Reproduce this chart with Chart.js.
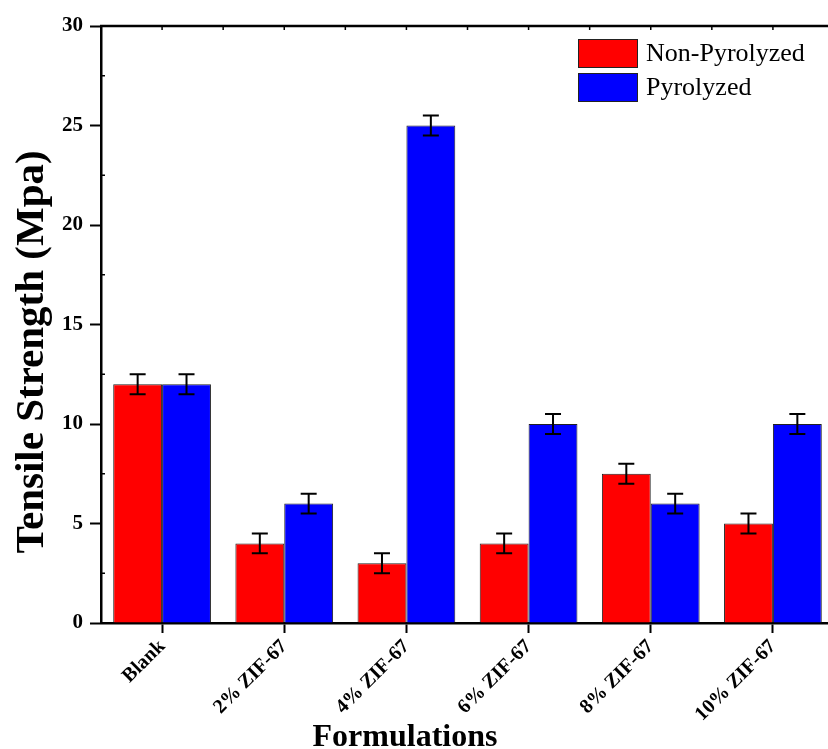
<!DOCTYPE html>
<html>
<head>
<meta charset="utf-8">
<script src="https://cdn.jsdelivr.net/npm/chart.js@4"></script>
<style>
  html, body { margin: 0; padding: 0; background: #fff; overflow: hidden; }
  #wrap { width: 840px; height: 749px; }
</style>
</head>
<body>
<div id="wrap"><canvas id="tsChart" width="840" height="749"></canvas></div>
<script>
// values
const formulations   = ['Blank', '2% ZIF-67', '4% ZIF-67', '6% ZIF-67', '8% ZIF-67', '10% ZIF-67'];
const nonPyrolyzed   = [12, 4, 3, 4, 7.5, 5];
const nonPyrolyzedSd = [0.5, 0.5, 0.5, 0.5, 0.5, 0.5];
const pyrolyzed      = [12, 6, 25, 10, 6, 10];
const pyrolyzedSd    = [0.5, 0.5, 0.5, 0.5, 0.5, 0.5];
const yTicks         = [0, 5, 10, 15, 20, 25, 30];
const xTitle         = 'Formulations';
const yTitle         = 'Tensile Strength (Mpa)';

const SERIF = '"Liberation Serif", "Times New Roman", serif';

// error bars, drawn from each bar's own x and the y scale
const errorBars = {
  id: 'errorBars',
  afterDatasetsDraw(chart) {
    const { ctx, scales: { y } } = chart;
    ctx.save();
    ctx.strokeStyle = '#000';
    ctx.lineWidth = 2;
    chart.data.datasets.forEach((ds, i) => {
      const meta = chart.getDatasetMeta(i);
      meta.data.forEach((bar, j) => {
        const v = ds.data[j], e = ds.errors[j];
        const top = y.getPixelForValue(v + e);
        const bot = y.getPixelForValue(v - e);
        const x = bar.x, cap = 8;
        ctx.beginPath();
        ctx.moveTo(x, top); ctx.lineTo(x, bot);
        ctx.moveTo(x - cap, top); ctx.lineTo(x + cap, top);
        ctx.moveTo(x - cap, bot); ctx.lineTo(x + cap, bot);
        ctx.stroke();
      });
    });
    ctx.restore();
  }
};

// top frame, minor ticks, axis titles and the legend box inside the plot
const frame = {
  id: 'frame',
  afterDraw(chart) {
    const { ctx, chartArea: a, scales: { x, y } } = chart;
    ctx.save();
    ctx.strokeStyle = '#000';
    ctx.lineWidth = 2.5;
    ctx.beginPath();
    ctx.moveTo(a.left - 1, a.top);
    ctx.lineTo(a.right, a.top);
    ctx.stroke();

    ctx.lineWidth = 1.5;
    ctx.beginPath();
    for (let v = 2.5; v < 30; v += 5) {
      const py = y.getPixelForValue(v);
      ctx.moveTo(a.left, py); ctx.lineTo(a.left + 4, py);
    }
    const step = (a.right - a.left) / formulations.length / 2;
    for (let k = 1; k < formulations.length * 2; k++) {
      const px = a.left + k * step;
      ctx.moveTo(px, a.top); ctx.lineTo(px, a.top + 4);
    }
    ctx.stroke();

    // axis titles (placed off-centre, as in the original figure)
    ctx.fillStyle = '#000';
    ctx.textAlign = 'center';
    ctx.textBaseline = 'alphabetic';
    ctx.font = 'bold 32px ' + SERIF;
    ctx.fillText(xTitle, 405, 746);
    ctx.save();
    ctx.translate(43, 352);
    ctx.rotate(-Math.PI / 2);
    ctx.font = 'bold 41px ' + SERIF;
    ctx.fillText(yTitle, 0, 0);
    ctx.restore();

    // legend
    const bx = a.left + 477, by = a.top + 13, bw = 60, bh = 29, gap = 34;
    ctx.textAlign = 'left';
    ctx.font = '26px ' + SERIF;
    ctx.textBaseline = 'middle';
    chart.data.datasets.forEach((ds, i) => {
      const top = by + i * gap;
      ctx.fillStyle = ds.backgroundColor;
      ctx.fillRect(bx, top, bw, bh);
      ctx.lineWidth = 1;
      ctx.strokeStyle = '#222';
      ctx.strokeRect(bx + 0.5, top + 0.5, bw - 1, bh - 1);
      ctx.fillStyle = '#000';
      ctx.fillText(ds.label, bx + bw + 8, top + bh / 2 + 1);
    });
    ctx.restore();
  }
};

new Chart(document.getElementById('tsChart'), {
  type: 'bar',
  data: {
    labels: formulations,
    datasets: [
      {
        label: 'Non-Pyrolyzed',
        data: nonPyrolyzed,
        errors: nonPyrolyzedSd,
        backgroundColor: '#ff0000',
        borderColor: '#222',
        borderWidth: 1,
      },
      {
        label: 'Pyrolyzed',
        data: pyrolyzed,
        errors: pyrolyzedSd,
        backgroundColor: '#0000ff',
        borderColor: '#222',
        borderWidth: 1,
      }
    ]
  },
  options: {
    responsive: false,
    animation: false,
    layout: { padding: { top: 26, right: 6, left: 0, bottom: 0 } },
    datasets: { bar: { categoryPercentage: 0.8, barPercentage: 1.0 } },
    plugins: {
      legend: { display: false },
      tooltip: { enabled: false }
    },
    scales: {
      x: {
        grid: {
          display: true, drawOnChartArea: false, offset: false,
          drawTicks: true, tickLength: 10, tickWidth: 2, tickColor: '#000'
        },
        border: { display: true, color: '#000', width: 2.5 },
        ticks: {
          color: '#000', maxRotation: 45, minRotation: 45, padding: 2,
          font: { family: SERIF, size: 20, weight: 'bold' }
        },
        afterFit(scale) { scale.height = 126; }
      },
      y: {
        min: 0, max: 30,
        afterBuildTicks(scale) { scale.ticks = yTicks.map(v => ({ value: v })); },
        grid: {
          display: true, drawOnChartArea: false,
          drawTicks: true, tickLength: 11, tickWidth: 2, tickColor: '#000'
        },
        border: { display: true, color: '#000', width: 2.5 },
        ticks: {
          color: '#000', padding: 7,
          font: { family: SERIF, size: 21, weight: 'bold' }
        },
        afterFit(scale) { scale.width = 101; }
      }
    }
  },
  plugins: [errorBars, frame]
});
</script>
</body>
</html>
